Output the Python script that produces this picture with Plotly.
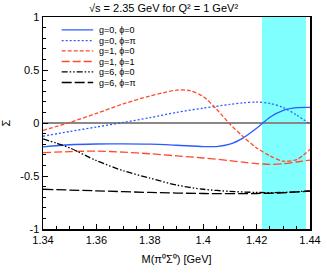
import plotly.graph_objects as go

# ---- data ----
x_g0p0 = [1.34, 1.35, 1.36, 1.37, 1.38, 1.39, 1.40, 1.405, 1.41, 1.415, 1.42, 1.425, 1.43, 1.435, 1.44]
y_g0p0 = [-0.225, -0.205, -0.198, -0.197, -0.2, -0.21, -0.222, -0.222, -0.2, -0.14, -0.05, 0.055, 0.12, 0.145, 0.148]

x_g0pp = [1.34, 1.35, 1.36, 1.37, 1.38, 1.39, 1.40, 1.41, 1.415, 1.42, 1.425, 1.43, 1.435, 1.44]
y_g0pp = [-0.125, -0.08, -0.038, 0.005, 0.05, 0.1, 0.14, 0.175, 0.19, 0.198, 0.185, 0.145, 0.075, -0.01]

x_g1p0 = [1.34, 1.35, 1.36, 1.37, 1.38, 1.385, 1.39, 1.395, 1.40, 1.405, 1.41, 1.415, 1.42, 1.425, 1.43, 1.435, 1.44]
y_g1p0 = [-0.07, 0.005, 0.09, 0.18, 0.255, 0.285, 0.31, 0.305, 0.25, 0.13, -0.01, -0.13, -0.235, -0.31, -0.36, -0.345, -0.25]

x_g1p1 = [1.34, 1.35, 1.36, 1.37, 1.38, 1.39, 1.40, 1.41, 1.415, 1.42, 1.425, 1.43, 1.435, 1.44]
y_g1p1 = [-0.28, -0.27, -0.265, -0.275, -0.29, -0.31, -0.33, -0.355, -0.37, -0.383, -0.39, -0.385, -0.368, -0.35]

x_g6p0 = [1.34, 1.345, 1.35, 1.36, 1.37, 1.38, 1.39, 1.40, 1.41, 1.42, 1.43, 1.44]
y_g6p0 = [-0.15, -0.19, -0.235, -0.355, -0.45, -0.52, -0.585, -0.625, -0.645, -0.655, -0.655, -0.64]

x_g6pp = [1.34, 1.36, 1.38, 1.40, 1.42, 1.43, 1.44]
y_g6pp = [-0.625, -0.64, -0.655, -0.665, -0.665, -0.658, -0.642]

band = [1.422, 1.4385]

labels = ["g=0, ϕ=0", "g=0, ϕ=π", "g=1, ϕ=0", "g=1, ϕ=1", "g=6, ϕ=0", "g=6, ϕ=π"]
xtick_vals = [1.34, 1.36, 1.38, 1.40, 1.42, 1.44]
xtick_text = ["1.34", "1.36", "1.38", "1.4", "1.42", "1.44"]
ytick_vals = [-1, -0.5, 0, 0.5, 1]
ytick_text = ["-1", "-0.5", "0", "0.5", "1"]

BLUE = "#2a5cff"
RED = "#ff4a2a"
BLACK = "#000000"
styles = [
    (BLUE, "solid"),
    (BLUE, "2px,2px"),
    (RED, "4px,2px"),
    (RED, "8px,3px"),
    (BLACK, "6px,2px,1.5px,2px,1.5px,2px"),
    (BLACK, "10px,3px"),
]
series = [(x_g0p0, y_g0p0), (x_g0pp, y_g0pp), (x_g1p0, y_g1p0),
          (x_g1p1, y_g1p1), (x_g6p0, y_g6p0), (x_g6pp, y_g6pp)]

FONT = "Liberation Sans, Arial, sans-serif"

fig = go.Figure()
for (xs, ys), (c, d), name in zip(series, styles, labels):
    fig.add_trace(go.Scatter(x=xs, y=ys, mode="lines", name=name,
                             line=dict(color=c, dash=d, width=1.3, shape="spline", smoothing=0.8),
                             showlegend=False, hoverinfo="skip"))

fig.add_vrect(x0=band[0], x1=band[1], fillcolor="#80ffff", line_width=0, layer="below", opacity=1)

# manual legend
row_y = [0.939, 0.889, 0.840, 0.790, 0.741, 0.691]
for (c, d), name, yy in zip(styles, labels, row_y):
    fig.add_shape(type="line", xref="x domain", yref="y domain", x0=0.07, x1=0.188, y0=yy, y1=yy,
                  line=dict(color=c, dash=d, width=1.3))
    fig.add_annotation(xref="x domain", yref="y domain", x=0.201, y=yy, text=name, showarrow=False,
                       xanchor="left", yanchor="middle", font=dict(size=9, family=FONT, color="black"))

fig.update_layout(
    width=327, height=273,
    margin=dict(l=43, r=17, t=17, b=44, autoexpand=False),
    plot_bgcolor="white", paper_bgcolor="white",
    font=dict(family=FONT, size=11, color="black"),
    title=dict(text="√s = 2.35 GeV for Q² = 1 GeV²", x=0.5, xanchor="center", y=0.97, yanchor="middle",
               font=dict(size=11, family=FONT)),
    showlegend=False,
)
fig.update_xaxes(range=[1.34, 1.44], tickvals=xtick_vals, ticktext=xtick_text, automargin=False,
                 showline=True, linecolor="black", linewidth=1.5, mirror=True,
                 ticks="inside", ticklen=5, tickcolor="black", showgrid=False, zeroline=False,
                 minor=dict(dtick=0.005, tick0=1.34, ticks="inside", ticklen=3, tickcolor="black", showgrid=False),
                 title=dict(text="M(π⁰Σ⁰) [GeV]", standoff=10, font=dict(size=11)))
fig.update_yaxes(range=[-1, 1], tickvals=ytick_vals, ticktext=ytick_text, automargin=False,
                 showline=True, linecolor="black", linewidth=1.5, mirror=True,
                 ticks="inside", ticklen=5, tickcolor="black", showgrid=False,
                 zeroline=True, zerolinecolor="#888888", zerolinewidth=1.5,
                 minor=dict(dtick=0.1, tick0=0, ticks="inside", ticklen=3, tickcolor="black", showgrid=False),
                 title=dict(text="Σ", standoff=9, font=dict(size=11)))

fig.write_html("out.html", config={"displayModeBar": False, "staticPlot": True},
               post_script="document.body.style.margin='0';")
